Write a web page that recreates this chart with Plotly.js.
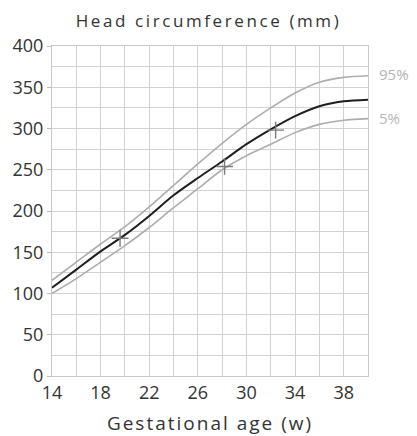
<!DOCTYPE html>
<html>
<head>
<meta charset="utf-8">
<script src="https://cdn.plot.ly/plotly-3.0.1.min.js"></script>
<style>
  html, body { margin: 0; padding: 0; background: #ffffff; }
  #chart { width: 417px; height: 436px; }
  /* the printed chart uses widely tracked titles */
  #chart .gtitle { letter-spacing: 2.6px; }
  #chart .xtitle { letter-spacing: 2px; }
</style>
</head>
<body>
<div id="chart"></div>
<script>
// Gestational age (weeks) at which the reference curves are sampled
const weeks = [14, 16, 18, 20, 22, 24, 26, 28, 30, 32, 34, 36, 38, 40];

// Head circumference percentile curves (mm)
const p95 = [116, 138, 160, 181, 205, 231, 257, 282, 305, 325, 343, 356, 362, 364];
const p50 = [107, 129, 151, 171, 194, 219, 240, 260, 281, 299, 315, 327, 333, 335];
const p05 = [100, 118, 138, 158, 180, 204, 227, 250, 267, 281, 295, 305, 310, 312];

// Individual measurements plotted on the chart
const measureWeeks = [19.6, 28.2, 32.4];
const measureHC = [167, 254, 298];

// Axis tick labels
const xTicks = [14, 18, 22, 26, 30, 34, 38];
const yTicks = [0, 50, 100, 150, 200, 250, 300, 350, 400];

const FONT = '"Open Sans", Lato, sans-serif';
const GRID = '#d2d2d2';

const traces = [
  { x: weeks, y: p95, mode: 'lines', line: { color: '#adadad', width: 1.6, shape: 'spline', smoothing: 0.8 }, hoverinfo: 'skip' },
  { x: weeks, y: p05, mode: 'lines', line: { color: '#adadad', width: 1.6, shape: 'spline', smoothing: 0.8 }, hoverinfo: 'skip' },
  { x: weeks, y: p50, mode: 'lines', line: { color: '#1e1e1e', width: 2, shape: 'spline', smoothing: 0.8 }, hoverinfo: 'skip' },
  {
    x: measureWeeks, y: measureHC, mode: 'markers',
    marker: { symbol: 'cross-thin-open', size: 12, color: '#7a7a7a', line: { color: '#7a7a7a', width: 1.4 } },
    hoverinfo: 'skip'
  }
];

const last = weeks.length - 1;

const layout = {
  width: 417,
  height: 436,
  margin: { l: 52, r: 49, t: 46, b: 60 },
  paper_bgcolor: '#ffffff',
  plot_bgcolor: '#ffffff',
  showlegend: false,
  font: { family: FONT, color: '#333333', size: 18 },
  title: {
    text: 'Head circumference (mm)',
    font: { family: FONT, size: 17, color: '#333333' },
    x: 0.5, xanchor: 'center',
    y: 1 - 21 / 436, yanchor: 'middle'
  },
  xaxis: {
    range: [14, 40],
    tickmode: 'array',
    tickvals: xTicks,
    ticktext: xTicks.map(String),
    tickfont: { family: FONT, size: 18, color: '#333333' },
    showgrid: true, gridcolor: GRID, gridwidth: 1,
    minor: { dtick: 2, tick0: 14, showgrid: true, gridcolor: GRID, gridwidth: 1 },
    zeroline: false,
    showline: true, linecolor: '#c8c8c8', linewidth: 1, mirror: true,
    ticks: '', ticklabelstandoff: 0,
    title: { text: 'Gestational age (w)', font: { family: FONT, size: 19, color: '#333333' }, standoff: 14 }
  },
  yaxis: {
    range: [0, 400],
    tickmode: 'array',
    tickvals: yTicks,
    ticktext: yTicks.map(String),
    tickfont: { family: FONT, size: 18, color: '#333333' },
    showgrid: true, gridcolor: GRID, gridwidth: 1,
    minor: { dtick: 25, tick0: 0, showgrid: true, gridcolor: GRID, gridwidth: 1 },
    zeroline: false,
    showline: true, linecolor: '#c8c8c8', linewidth: 1, mirror: true,
    ticks: 'outside', ticklen: 4, tickcolor: '#bdbdbd',
    ticklabelstandoff: 0
  },
  annotations: [
    { x: weeks[last], y: p95[last], xref: 'x', yref: 'y', text: '95%', showarrow: false,
      xanchor: 'left', yanchor: 'middle', xshift: 9, yshift: 2,
      font: { family: FONT, size: 15, color: '#b5b5b5' } },
    { x: weeks[last], y: p05[last], xref: 'x', yref: 'y', text: '5%', showarrow: false,
      xanchor: 'left', yanchor: 'middle', xshift: 9, yshift: 1,
      font: { family: FONT, size: 15, color: '#b5b5b5' } }
  ]
};

Plotly.newPlot('chart', traces, layout, { displayModeBar: false, staticPlot: true });
</script>
</body>
</html>
